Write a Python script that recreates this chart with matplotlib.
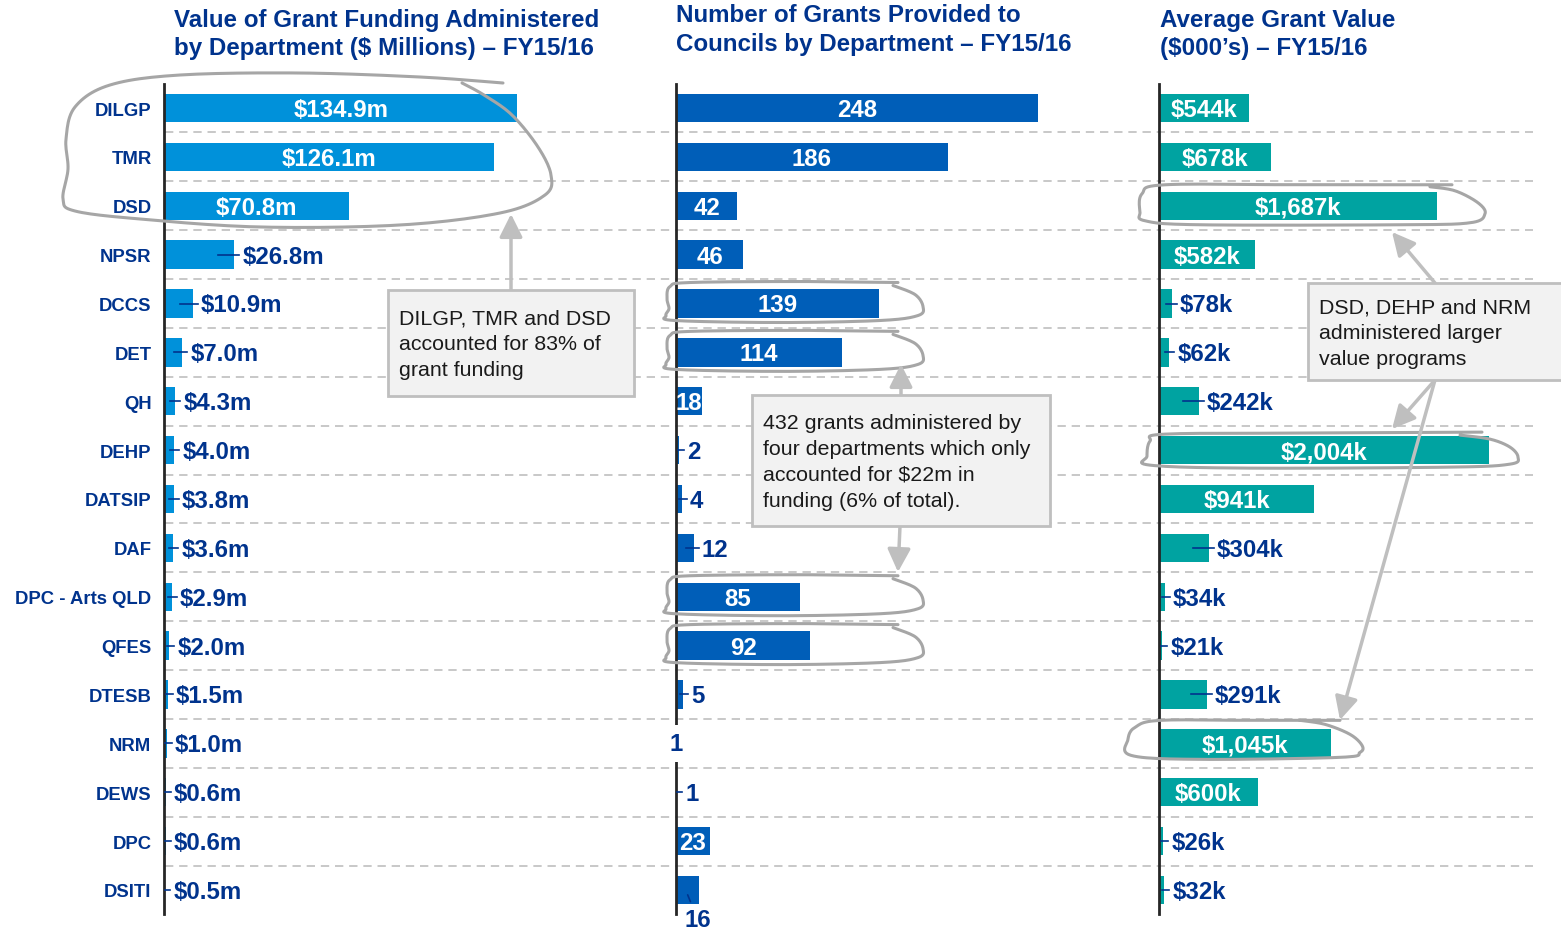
import numpy as np
import matplotlib
matplotlib.use('Agg')
import matplotlib.pyplot as plt
from matplotlib.patches import Rectangle

plt.rcParams['font.family'] = ['Liberation Sans', 'DejaVu Sans']

departments = ['DILGP', 'TMR', 'DSD', 'NPSR', 'DCCS', 'DET', 'QH', 'DEHP', 'DATSIP',
               'DAF', 'DPC - Arts QLD', 'QFES', 'DTESB', 'NRM', 'DEWS', 'DPC', 'DSITI']
funding = [134.9, 126.1, 70.8, 26.8, 10.9, 7.0, 4.3, 4.0, 3.8, 3.6, 2.9, 2.0, 1.5, 1.0, 0.6, 0.6, 0.5]
grants = [248, 186, 42, 46, 139, 114, 18, 2, 4, 12, 85, 92, 5, 1, 1, 23, 16]
avg_value = [544, 678, 1687, 582, 78, 62, 242, 2004, 941, 304, 34, 21, 291, 1045, 600, 26, 32]

titles = [['Value of Grant Funding Administered', 'by Department ($ Millions) \u2013 FY15/16'],
          ['Number of Grants Provided to', 'Councils by Department \u2013 FY15/16'],
          ['Average Grant Value', '($000\u2019s) \u2013 FY15/16']]

notes = ['DILGP, TMR and DSD\naccounted for 83% of\ngrant funding',
         '432 grants administered by\nfour departments which only\naccounted for $22m in\nfunding (6% of total).',
         'DSD, DEHP and NRM\nadministered larger\nvalue programs']

DARK = '#00338D'
GREY = '#BFBFBF'
LOOP = '#A6A6A6'
VFONT = 17.3

W, H = 1561, 937
fig = plt.figure(figsize=(W / 100, H / 100), dpi=100)

TOP, BOT = 84.6, 915.4
n = len(departments)
row_h = (BOT - TOP) / (n)


def px_axes(x0, x1):
    ax = fig.add_axes([x0 / W, 1 - BOT / H, (x1 - x0) / W, (BOT - TOP) / H])
    ax.set_ylim(n - 0.5, -0.5)
    ax.patch.set_alpha(0)
    return ax


def row_px(i):
    return TOP + (i + 0.5) * row_h


# dashed separators across all panels
bg = px_axes(165, 1533)
bg.set_xlim(0, 1)
bg.hlines(np.arange(n - 1) + 0.5, 0, 1, colors=GREY, linestyles=(0, (5, 3.5)), lw=1.2)
bg.axis('off')


def panel(x0, x1, values, scale, color, fmt, inside):
    ax = px_axes(x0, x1)
    ax.set_xlim(0, (x1 - x0) / scale)
    ax.barh(range(n), values, height=0.58, color=color, zorder=2)
    for s in ['top', 'right', 'bottom']:
        ax.spines[s].set_visible(False)
    ax.spines['left'].set_linewidth(2)
    ax.spines['left'].set_color('#262626')
    ax.set_xticks([])
    ax.set_yticks([])
    ax.tick_params(length=0)
    for i, v in enumerate(values):
        if inside(v):
            ax.text(v / 2, i + 0.03, fmt(v), ha='center', va='center', color='white',
                    fontsize=VFONT, fontweight='bold', zorder=4)
    return ax


def outside_label(ax, i, v, scale, txt):
    end = v * scale
    x0 = (end - min(16, 0.45 * end)) / scale
    ax.plot([x0, (end + 5) / scale], [i, i], color=DARK, lw=1.2, zorder=3)
    ax.text((end + 8) / scale, i + 0.03, txt, ha='left', va='center', color=DARK,
            fontsize=VFONT, fontweight='bold', zorder=4)


# panel 1 - funding
s1 = 2.62
ax1 = panel(164, 560, funding, s1, '#0091DA', lambda v: '${:.1f}m'.format(v), lambda v: v > 50)
for i, v in enumerate(funding):
    if v <= 50:
        outside_label(ax1, i, v, s1, '${:.1f}m'.format(v))
ax1.set_yticks(range(n))
ax1.set_yticklabels(departments, fontsize=13.3, fontweight='bold', color=DARK)
ax1.tick_params(axis='y', length=0, pad=9)

# panel 2 - number of grants
s2 = 1.46
ax2 = panel(676, 1080, grants, s2, '#005EB8', lambda v: str(v), lambda v: v >= 18)
for i, v in enumerate(grants):
    if v >= 18:
        continue
    if departments[i] == 'NRM':
        ax2.text(0, i, str(v), ha='center', va='center', color=DARK, fontsize=VFONT,
                 fontweight='bold', zorder=5,
                 bbox=dict(boxstyle='square,pad=0.3', fc='white', ec='none'))
    elif departments[i] == 'DSITI':
        ax2.annotate(str(v), xy=(v * 0.5, i + 0.1), xytext=(10, -25), textcoords='offset pixels',
                     ha='center', va='center', color=DARK, fontsize=VFONT, fontweight='bold',
                     annotation_clip=False,
                     arrowprops=dict(arrowstyle='-', color=DARK, lw=1.2, shrinkA=3, shrinkB=0))
    else:
        outside_label(ax2, i, v, s2, str(v))

# panel 3 - average grant value
s3 = 0.1647
ax3 = panel(1159, 1533, avg_value, s3, '#00A3A1', lambda v: '${:,}k'.format(v), lambda v: v >= 500)
for i, v in enumerate(avg_value):
    if v < 500:
        outside_label(ax3, i, v, s3, '${:,}k'.format(v))

# overlay for titles, notes, arrows and hand drawn loops
ov = fig.add_axes([0, 0, 1, 1])
ov.set_xlim(0, W)
ov.set_ylim(H, 0)
ov.axis('off')
ov.patch.set_alpha(0)

for (x, y), lines in zip([(174, 20), (676, 15), (1160, 20)], titles):
    for k, line in enumerate(lines):
        ov.text(x, y + 29 * k, line, ha='left', va='center', color=DARK,
                fontsize=17.4, fontweight='bold')

boxes = [(388, 291, 246, 106), (752, 396, 298, 131), (1308, 284, 260, 97)]
for (x, y, w, h), txt in zip(boxes, notes):
    ov.add_patch(Rectangle((x, y), w, h, fc='#F2F2F2', ec=GREY, lw=2, zorder=5))
    ov.text(x + 11, y + h / 2 + 1, txt, ha='left', va='center', fontsize=15.4,
            color='#1A1A1A', linespacing=1.45, zorder=6)

arrows = [((511, 291), (511, 215)), ((901, 396), (901, 365)), ((900, 527), (898, 573)),
          ((1435, 284), (1392, 233)), ((1435, 381), (1392, 430)), ((1435, 381), (1340, 721))]
for start, end in arrows:
    ov.annotate('', xy=end, xytext=start,
                arrowprops=dict(arrowstyle='-|>,head_length=0.7,head_width=0.35',
                                color=GREY, lw=2.5, mutation_scale=20, shrinkA=0, shrinkB=0),
                zorder=4)


def smooth(pts, k=12):
    p = np.array(pts, float)
    p = np.vstack([p[0], p, p[-1]])
    out = []
    t = np.linspace(0, 1, k, endpoint=False)[:, None]
    for i in range(1, len(p) - 2):
        p0, p1, p2, p3 = p[i - 1], p[i], p[i + 1], p[i + 2]
        out.append(0.5 * (2 * p1 + (-p0 + p2) * t + (2 * p0 - 5 * p1 + 4 * p2 - p3) * t ** 2
                          + (-p0 + 3 * p1 - 3 * p2 + p3) * t ** 3))
    out.append(p[-2][None])
    return np.vstack(out)


def draw_loop(pts):
    c = smooth(pts)
    ov.plot(c[:, 0], c[:, 1], color=LOOP, lw=2.2, zorder=3, solid_capstyle='round')


draw_loop([(503, 84), (420, 78), (300, 74), (180, 76), (110, 86), (75, 108), (66, 140),
           (68, 170), (63, 200), (75, 212), (140, 220), (260, 228), (400, 226), (500, 214),
           (545, 196), (551, 176), (538, 148), (512, 116), (484, 96), (462, 84)])

for i in [4, 5, 10, 11]:
    yc = row_px(i)
    draw_loop([(898, yc - 21), (800, yc - 22), (690, yc - 21), (670, yc - 17), (667, yc - 5),
               (669, yc + 5), (666, yc + 12), (675, yc + 17), (780, yc + 19), (880, yc + 17),
               (918, yc + 12), (923, yc + 3), (915, yc - 9), (893, yc - 18)])

yc = row_px(2)
draw_loop([(1452, yc - 21), (1300, yc - 21), (1165, yc - 21), (1142, yc - 12), (1140, yc + 6),
           (1145, yc + 15), (1200, yc + 19), (1400, yc + 19), (1470, yc + 17), (1485, yc + 8),
           (1478, yc - 3), (1455, yc - 15), (1430, yc - 19)])
yc = row_px(7)
draw_loop([(1482, yc - 18), (1300, yc - 17), (1165, yc - 16), (1150, yc - 9), (1147, yc + 6),
           (1150, yc + 15), (1250, yc + 18), (1450, yc + 17), (1510, yc + 14), (1518, yc + 7),
           (1510, yc - 3), (1490, yc - 11), (1460, yc - 15)])
yc = row_px(13)
draw_loop([(1340, yc - 23), (1250, yc - 23), (1160, yc - 23), (1135, yc - 16), (1128, yc - 4),
           (1131, yc + 12), (1200, yc + 16), (1340, yc + 14), (1360, yc + 9), (1362, yc + 2),
           (1350, yc - 9), (1325, yc - 19), (1300, yc - 23)])

fig.savefig('out.png', dpi=100)
